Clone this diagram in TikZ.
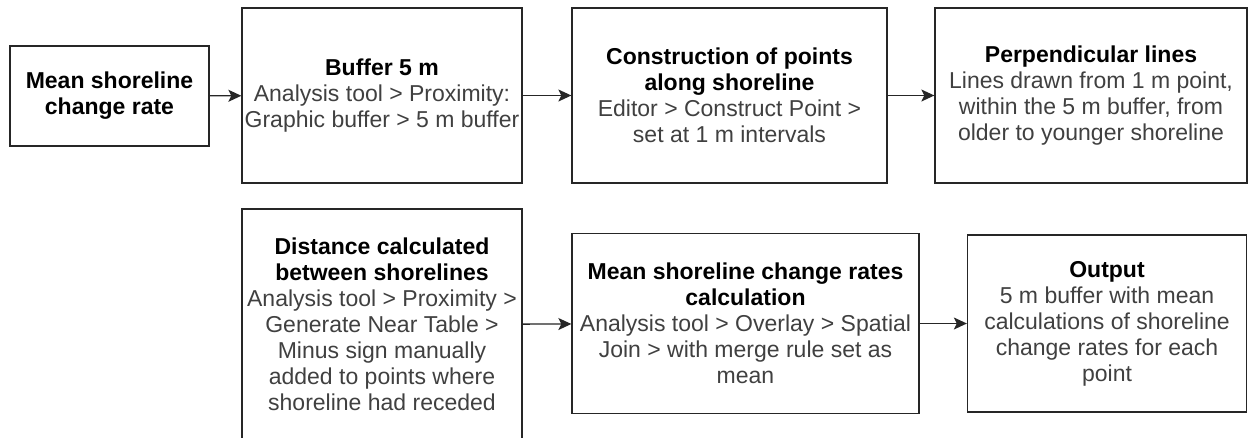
\documentclass[tikz,border=0pt]{standalone}
\usepackage{fontspec}
\setmainfont{Liberation Sans}
\usetikzlibrary{arrows.meta, positioning}

\tikzset{
  stepbox/.style={draw=black!85, line width=1.3pt, align=center, inner sep=2pt,
    font=\fontsize{23}{26}\selectfont, text=black!75},
  flow/.style={draw=black!85, line width=1.3pt,
    -{Stealth[length=13pt, width=12pt, inset=3pt]}},
}
\newcommand{\steptitle}[1]{\textbf{\color{black}#1}}

\begin{document}
\begin{tikzpicture}[x=1pt, y=-1pt]
  \clip (0,0) rectangle (1248,437);
  \fill [white] (0,0) rectangle (1248,437);

  % top row
  \node [stepbox, minimum width=199pt, minimum height=100pt] (rate) at (109.5,96)
    {\steptitle{Mean shoreline}\\ \steptitle{change rate}};
  \node [stepbox, minimum width=280pt, minimum height=175pt] (buffer) at (382,95.5)
    {\steptitle{Buffer 5 m}\\ Analysis tool > Proximity:\\ Graphic buffer > 5 m buffer};
  \node [stepbox, minimum width=315pt, minimum height=175pt] (points) at (729.5,95.5)
    {\steptitle{Construction of points}\\ \steptitle{along shoreline}\\
     Editor > Construct Point >\\ set at 1 m intervals};
  \node [stepbox, minimum width=312pt, minimum height=175pt] (perp) at (1091,95.5)
    {\steptitle{Perpendicular lines}\\ Lines drawn from 1 m point,\\
     within the 5 m buffer, from\\ older to younger shoreline};

  % bottom row
  \node [stepbox, minimum width=280pt, minimum height=231pt] (dist) at (382,324.5)
    {\steptitle{Distance calculated}\\ \steptitle{between shorelines}\\
     Analysis tool > Proximity >\\ Generate Near Table >\\ Minus sign manually\\
     added to points where\\ shoreline had receded};
  \node [stepbox, minimum width=347pt, minimum height=180pt] (meanrate) at (745.5,323.5)
    {\steptitle{Mean shoreline change rates}\\ \steptitle{calculation}\\
     Analysis tool > Overlay > Spatial\\ Join > with merge rule set as\\ mean};
  \node [stepbox, minimum width=279pt, minimum height=177pt] (output) at (1107,323.5)
    {\steptitle{Output}\\ 5 m buffer with mean\\ calculations of shoreline\\
     change rates for each\\ point};

  \draw [flow] (rate) -- (buffer);
  \draw [flow] (buffer) -- (points);
  \draw [flow] (points) -- (perp);
  \draw [flow] (dist) -- (meanrate);
  \draw [flow] (meanrate) -- (output);
\end{tikzpicture}
\end{document}
